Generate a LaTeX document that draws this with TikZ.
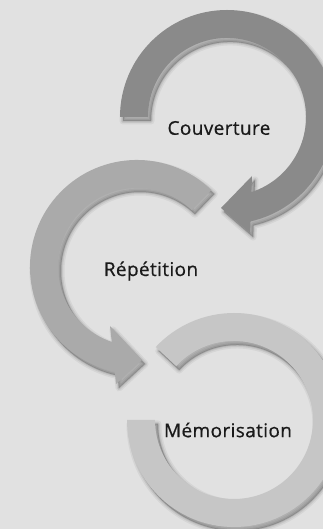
\documentclass[tikz,border=0pt]{standalone}
\usepackage{fontspec}
\setmainfont{Open Sans}[LetterSpace=2,FakeBold=0.6]
\definecolor{bg}{HTML}{E1E1E1}
\definecolor{arcdark}{HTML}{8A8A8A}
\definecolor{arcmid}{HTML}{AAAAAA}
\definecolor{arclight}{HTML}{C6C6C6}
\definecolor{txt}{HTML}{1A1A1A}
\tikzset{
  label text/.style={font=\fontsize{19}{22}\selectfont, text=txt, inner sep=0pt},
}
\newcommand\pathArcOne{(120,412) arc[start angle=180,end angle=-77.3,radius=107] -- (250,296) -- (221,321) -- (252,353) -- (251.4,336.9) arc[start angle=-72,end angle=180,radius=79] -- cycle}
\newcommand\pathArcTwo{(211.3,339.0) arc[start angle=46,end angle=258,radius=107] -- (116,145) -- (142,169) -- (110,203) -- (111.8,187.1) arc[start angle=251.4,end angle=46,radius=79] -- cycle}
\newcommand\pathArcThree{(127,109) arc[start angle=180,end angle=497,radius=107] -- (176.2,162.9) arc[start angle=137,end angle=-180,radius=79] -- cycle}
\newcommand\softshadow[1]{%
  \begin{scope}[shift={(3,-4)}]
    \fill[black,opacity=0.05,draw=black,line width=7pt,line join=round] #1;
    \fill[black,opacity=0.07,draw=black,line width=4pt,line join=round] #1;
    \fill[black,opacity=0.10,draw=black,line width=1.5pt,line join=round] #1;
  \end{scope}}
\begin{document}
\begin{tikzpicture}[x=1pt,y=1pt]
\useasboundingbox (0,0) rectangle (323,529);
\clip (0,0) rectangle (323,529);
\fill[bg] (0,0) rectangle (323,529);
% Mémorisation arc
\softshadow{\pathArcThree}
\fill[arclight] \pathArcThree;
% Répétition arrow
\softshadow{\pathArcTwo}
\fill[arcmid] \pathArcTwo;
% Couverture arrow
\softshadow{\pathArcOne}
\fill[arcdark] \pathArcOne;
% labels
\node[label text] (cov) at (219,401) {Couverture};
\node[label text] (rep) at (151,258) {Répétition};
\node[label text] (mem) at (228,99) {Mémorisation};
\end{tikzpicture}
\end{document}
